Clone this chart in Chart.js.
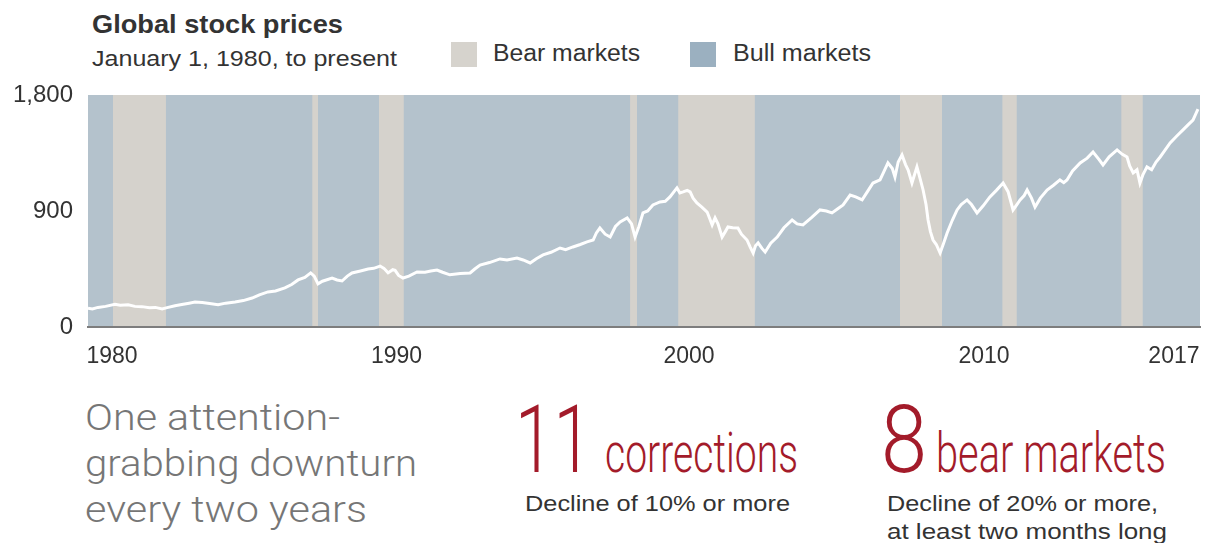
<!DOCTYPE html>
<html>
<head>
<meta charset="utf-8">
<script src="https://cdn.jsdelivr.net/npm/chart.js@4.4.1/dist/chart.umd.min.js"></script>
<style>
  html, body { margin: 0; padding: 0; background: #ffffff; }
  body { width: 1206px; height: 543px; position: relative; overflow: hidden; font-family: "Liberation Sans", Arial, sans-serif; }
  .t { position: absolute; white-space: nowrap; line-height: 1; transform-origin: 0 0; display: inline-block; }
  #chartBox { position: absolute; left: 0; top: 80px; width: 1206px; height: 290px; }
  .sw { position: absolute; width: 26px; height: 25px; }
  .red { color: #a31b2a; font-family: Roboto, "Liberation Sans Narrow", sans-serif; font-weight: 300; }
  .sub { color: #333; font-size: 22px; }
</style>
</head>
<body>
<div class="t" data-w="251" style="left:92px; top:11.7px; font-size:25px; font-weight:bold; color:#333;">Global stock prices</div>
<div class="t" data-w="305" style="left:92px; top:47.5px; font-size:22px; color:#333;">January 1, 1980, to present</div>
<div id="legend"></div>

<div id="chartBox"><canvas id="c"></canvas></div>

<div class="t" data-w="255" style="left:85px; top:398.7px; font-family:Roboto,sans-serif; font-weight:300; font-size:37px; color:#767676;">One attention-</div>
<div class="t" data-w="332" style="left:85px; top:444.7px; font-family:Roboto,sans-serif; font-weight:300; font-size:37px; color:#767676;">grabbing downturn</div>
<div class="t" data-w="282" style="left:85px; top:490.7px; font-family:Roboto,sans-serif; font-weight:300; font-size:37px; color:#767676;">every two years</div>

<div class="t red" data-w="77" style="left:515px; top:393px; font-size:94px;">11</div>
<div class="t red" data-w="193" style="left:605px; top:425px; font-size:56px;">corrections</div>
<div class="t sub" data-w="265" style="left:525px; top:493.4px;">Decline of 10% or more</div>

<div class="t red" data-w="46" style="left:881px; top:393px; font-size:94px;">8</div>
<div class="t red" data-w="230" style="left:936px; top:425px; font-size:56px;">bear markets</div>
<div class="t sub" data-w="271" style="left:887px; top:493.4px;">Decline of 20% or more,</div>
<div class="t sub" data-w="280" style="left:887px; top:521.4px;">at least two months long</div>

<script>
// ---------------- DATA ----------------
const years = [
 1980.00,1980.15,1980.34,1980.60,1980.92,1981.10,1981.37,1981.60,1981.84,1982.10,
 1982.30,1982.53,1982.70,1982.97,1983.20,1983.45,1983.65,1983.90,1984.15,1984.44,
 1984.70,1985.02,1985.30,1985.60,1985.85,1986.14,1986.40,1986.72,1986.95,1987.17,
 1987.40,1987.60,1987.72,1987.85,1988.00,1988.33,1988.50,1988.67,1988.85,1989.01,
 1989.30,1989.56,1989.75,1989.97,1990.10,1990.24,1990.40,1990.48,1990.60,1990.75,
 1990.95,1991.23,1991.50,1991.70,1991.91,1992.10,1992.35,1992.70,1993.04,1993.20,
 1993.38,1993.70,1994.06,1994.30,1994.64,1994.85,1995.09,1995.30,1995.53,1995.80,
 1996.11,1996.30,1996.55,1996.80,1997.03,1997.24,1997.35,1997.47,1997.65,1997.82,
 1998.00,1998.16,1998.40,1998.55,1998.67,1998.80,1998.94,1999.10,1999.28,1999.52,
 1999.70,1999.86,2000.00,2000.10,2000.20,2000.31,2000.45,2000.55,2000.65,2000.78,
 2000.95,2001.13,2001.22,2001.30,2001.40,2001.50,2001.64,2001.75,2001.84,2002.00,
 2002.18,2002.30,2002.49,2002.60,2002.70,2002.78,2002.87,2003.00,2003.11,2003.30,
 2003.52,2003.75,2004.03,2004.20,2004.40,2004.70,2004.98,2005.20,2005.39,2005.60,
 2005.77,2006.01,2006.20,2006.42,2006.60,2006.79,2007.03,2007.15,2007.30,2007.45,
 2007.54,2007.65,2007.78,2007.90,2007.99,2008.12,2008.29,2008.40,2008.50,2008.60,
 2008.67,2008.75,2008.84,2008.95,2009.08,2009.20,2009.32,2009.50,2009.66,2009.80,
 2010.00,2010.15,2010.34,2010.55,2010.78,2011.00,2011.23,2011.40,2011.57,2011.70,
 2011.81,2011.95,2012.05,2012.20,2012.32,2012.50,2012.73,2012.95,2013.17,2013.30,
 2013.41,2013.60,2013.86,2014.10,2014.30,2014.50,2014.64,2014.85,2015.12,2015.30,
 2015.46,2015.55,2015.67,2015.80,2015.90,2016.00,2016.14,2016.30,2016.45,2016.59,
 2016.75,2016.93,2017.15,2017.37,2017.55,2017.71,2017.88
];
const prices = [
 145,140,152,160,176,168,172,160,158,150,
 152,140,150,165,175,185,194,190,182,172,
 185,194,205,225,250,272,280,303,330,365,
 385,420,395,335,355,380,365,357,395,419,
 435,450,455,473,455,420,445,440,400,380,
 395,427,425,435,442,425,405,415,419,450,
 481,500,528,520,535,520,497,530,559,580,
 613,600,621,640,660,675,730,768,720,698,
 780,815,846,800,698,780,885,900,947,970,
 975,1009,1050,1079,1040,1048,1060,1048,1000,962,
 930,892,840,792,846,800,698,740,776,770,
 768,720,675,620,574,630,652,610,582,650,
 698,770,830,800,792,850,908,900,885,920,
 947,1024,1010,986,1050,1117,1141,1200,1273,1230,
 1164,1280,1335,1260,1218,1117,1242,1150,1063,950,
 830,740,675,640,574,650,729,830,908,950,
 986,950,885,940,1009,1060,1117,1050,908,950,
 986,1020,1063,1000,931,1000,1063,1100,1141,1120,
 1141,1210,1273,1310,1358,1300,1257,1320,1374,1340,
 1319,1250,1195,1220,1117,1180,1242,1220,1280,1319,
 1370,1428,1480,1529,1570,1606,1690
];
const bearStart = [1980.85, 1987.65, 1989.93, 1998.50, 2000.14, 2007.71, 2011.20, 2015.26];
const bearEnd   = [1982.66, 1987.85, 1990.78, 1998.74, 2002.76, 2009.15, 2011.70, 2016.00];
const periodStart = 1980.0;
const periodEnd = 2017.95;
const yMax = 1800;
const yTicks = [0, 900, 1800];
const tickLabels = ['1980', '1990', '2000', '2010', '2017'];
const seriesLabels = ['Bear markets', 'Bull markets'];

// ---------------- STYLE ----------------
const bearColor = '#d5d2cc';
const bullColor = '#b4c2cc';
const legendColors = ['#d6d3cd', '#9bb0c0'];
const labelNudge = [0.82, 0.53, 0.51, 0.58, 0.06]; // label anchor offsets (years)

// legend (HTML) built from series labels
const legendEl = document.getElementById('legend');
const legendPos = [{sw: 451, tx: 493, w: 147}, {sw: 690, tx: 733, w: 138}];
seriesLabels.forEach((lab, i) => {
  const sw = document.createElement('div');
  sw.className = 'sw';
  sw.style.left = legendPos[i].sw + 'px';
  sw.style.top = '42px';
  sw.style.background = legendColors[i];
  legendEl.appendChild(sw);
  const tx = document.createElement('div');
  tx.className = 't';
  tx.dataset.w = legendPos[i].w;
  tx.style.left = legendPos[i].tx + 'px';
  tx.style.top = '42.2px';
  tx.style.fontSize = '23px';
  tx.style.color = '#333';
  tx.textContent = lab;
  legendEl.appendChild(tx);
});

// fit text widths
document.querySelectorAll('[data-w]').forEach(el => {
  const w = el.getBoundingClientRect().width;
  const target = parseFloat(el.dataset.w);
  if (w > 0) el.style.transform = 'scaleX(' + (target / w) + ')';
});

// build datasets
const lineData = years.map((x, i) => ({x: x, y: prices[i]}));
const bearData = [];
bearStart.forEach((s, i) => {
  bearData.push({x: s, y: yMax});
  bearData.push({x: bearEnd[i], y: yMax});
  bearData.push({x: bearEnd[i], y: null});
});
const bullData = [{x: periodStart, y: yMax}, {x: periodEnd, y: yMax}];

const tickFont = {family: '"Liberation Sans", Arial, sans-serif', size: 23};
const noScalePad = (scale) => {
  scale.paddingLeft = 0; scale.paddingRight = 0;
  scale.paddingTop = 0; scale.paddingBottom = 0;
};

new Chart(document.getElementById('c'), {
  type: 'line',
  data: {
    datasets: [
      {
        label: 'Global stock prices',
        data: lineData,
        borderColor: '#ffffff',
        borderWidth: 3,
        pointRadius: 0,
        tension: 0,
        fill: false,
        order: 0
      },
      {
        label: seriesLabels[0],
        data: bearData,
        borderWidth: 0,
        borderColor: 'rgba(0,0,0,0)',
        backgroundColor: bearColor,
        pointRadius: 0,
        spanGaps: false,
        fill: 'origin',
        order: 1
      },
      {
        label: seriesLabels[1],
        data: bullData,
        borderWidth: 0,
        borderColor: 'rgba(0,0,0,0)',
        backgroundColor: bullColor,
        pointRadius: 0,
        fill: 'origin',
        order: 2
      }
    ]
  },
  options: {
    responsive: true,
    maintainAspectRatio: false,
    animation: false,
    events: [],
    layout: {padding: {top: 15, right: 6, left: 0, bottom: 0}},
    plugins: {legend: {display: false}, tooltip: {enabled: false}},
    scales: {
      x: {
        type: 'linear',
        min: periodStart,
        max: periodEnd,
        grid: {display: false, drawTicks: false},
        border: {display: true, color: '#7d7d7d', width: 2, z: 1},
        afterBuildTicks: (scale) => {
          scale.ticks = tickLabels.map((t, i) => ({value: Number(t) + labelNudge[i]}));
        },
        afterFit: (scale) => { scale.height = 43; noScalePad(scale); },
        ticks: {
          autoSkip: false,
          maxRotation: 0,
          padding: 16,
          color: '#333',
          font: tickFont,
          callback: (v, i) => tickLabels[i]
        }
      },
      y: {
        min: 0,
        max: yMax,
        grid: {display: false, drawTicks: false},
        border: {display: false},
        afterBuildTicks: (scale) => { scale.ticks = yTicks.map(v => ({value: v})); },
        afterFit: (scale) => { scale.width = 88; noScalePad(scale); },
        ticks: {
          padding: 15,
          color: '#333',
          font: {family: '"Liberation Sans", Arial, sans-serif', size: 24},
          callback: (v) => v.toLocaleString('en-US')
        }
      }
    }
  }
});
</script>
</body>
</html>
